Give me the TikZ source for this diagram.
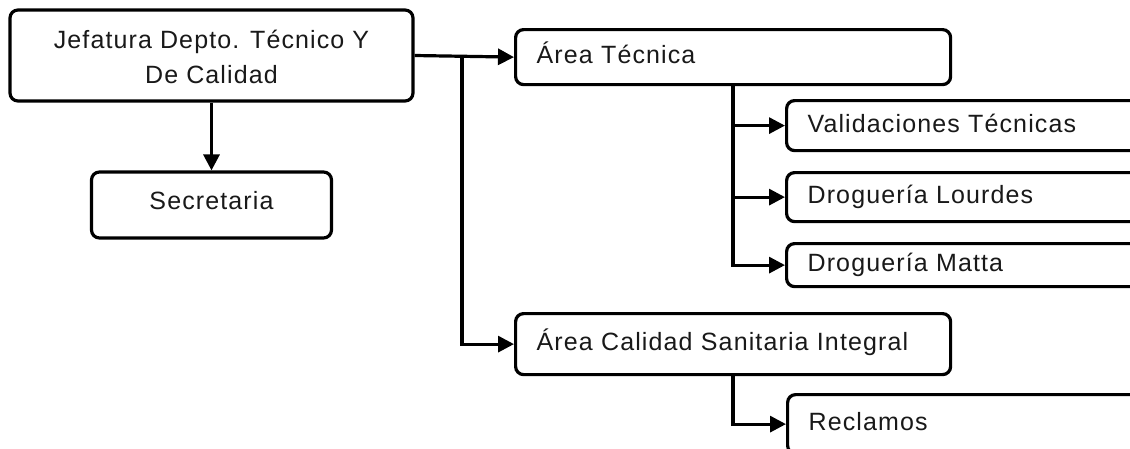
\documentclass[tikz,border=0pt]{standalone}
\usepackage{fontspec}
\setmainfont[LetterSpace=4.5]{Liberation Sans}
\usetikzlibrary{arrows.meta}
\begin{document}
\begin{tikzpicture}[x=1pt,y=-1pt,
  box/.style={draw=black, line width=3.2pt, rounded corners=8pt, fill=white,
    inner ysep=0pt, font=\fontsize{25}{35}\selectfont, text=black!90},
  cbox/.style={box, align=center, inner xsep=0pt},
  lbox/.style={box, anchor=north west, align=left, inner xsep=21pt,
    text height=18pt, text depth=5pt},
  conn/.style={line width=3.2pt, -{Triangle[length=16pt,width=16pt]}}]
\useasboundingbox (0,0) rectangle (1130,448);
\clip (0,0) rectangle (1130,448);
\fill[white] (0,0) rectangle (1130,448);

% nodes
\node[cbox, minimum width=403pt, minimum height=91pt, text height=57pt, text depth=2pt]
  (jef) at (211.5,55.5) {Jefatura Depto. Técnico Y\\De Calidad};
\node[cbox, minimum width=240pt, minimum height=66pt, text height=18pt, text depth=10pt]
  (sec) at (211.5,205) {Secretaria};
\node[lbox, minimum height=55pt, text width={435pt-42pt}] (at) at (514,28) {Área Técnica};
\node[lbox, minimum height=50pt, text width={430pt-42pt}] (vt) at (785,99) {Validaciones Técnicas};
\node[lbox, minimum height=49pt, text width={430pt-42pt}] (dl) at (785,171) {Droguería Lourdes};
\node[lbox, minimum height=43pt, text width={430pt-42pt}] (dm) at (785,242) {Droguería Matta};
\node[lbox, minimum height=61pt, text width={435pt-42pt}] (ac) at (514,312) {Área Calidad Sanitaria Integral};
\node[lbox, minimum height=59pt, text width={430pt-42pt}] (rc) at (786,393) {Reclamos};

% helper coordinates
\coordinate (xb) at (462,0);
\coordinate (xa) at (733,0);
\coordinate (jb) at (jef.east -| xb);
\coordinate (atb) at (at.south -| xa);
\coordinate (acb) at (ac.south -| xa);

% connectors
\draw[conn] (jef.south) -- (sec.north);
\draw[conn] (jef.east) -- (at.west);
\draw[conn] (jb) |- (ac.west);
\draw[conn] (atb) |- (vt.west);
\draw[conn] (atb) |- (dl.west);
\draw[conn] (atb) |- (dm.west);
\draw[conn] (acb) |- (rc.west);
\end{tikzpicture}
\end{document}
